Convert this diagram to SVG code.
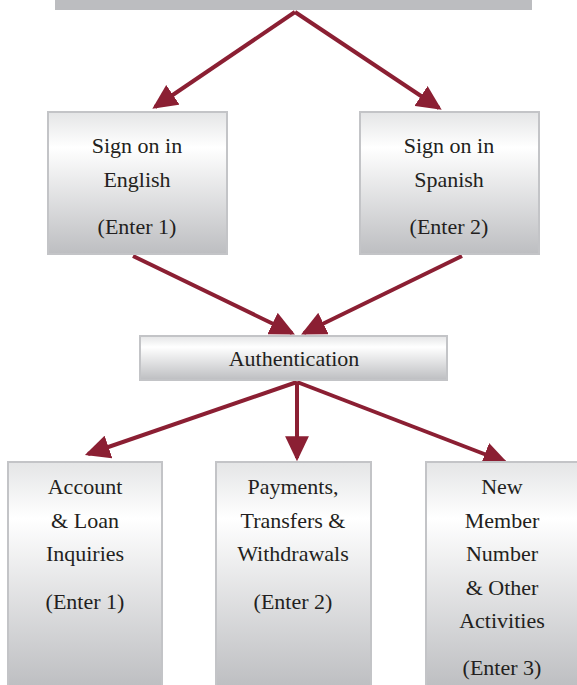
<svg xmlns="http://www.w3.org/2000/svg" width="577" height="685" viewBox="0 0 577 685">
<style>
.box{fill:url(#g);stroke:#c3c4c7;stroke-width:2}
.t{font-family:'Liberation Serif','Times New Roman',serif;font-size:22px;fill:#231f20;text-anchor:middle}
.c{stroke:#8b1f33;stroke-width:4;fill:none;marker-end:url(#ah)}
</style>
<defs>
<linearGradient id="g" x1="0" y1="0" x2="0" y2="1">
<stop offset="0" stop-color="#e4e5e6"/>
<stop offset="0.25" stop-color="#ffffff"/>
<stop offset="1" stop-color="#bdbec1"/>
</linearGradient>
<marker id="ah" markerUnits="userSpaceOnUse" markerWidth="26" markerHeight="24" refX="20" refY="11" orient="auto" viewBox="0 0 24 22">
<path d="M0,0 L23,11 L0,22 Z" fill="#8b1f33"/>
</marker>
</defs>
<g id="top"><rect x="55" y="-2" width="477" height="12" fill="#bcbdc0"/></g>
<g id="connectors">
<path class="c" d="M295,12 L155,107"/>
<path class="c" d="M295,12 L439,108"/>
<path class="c" d="M133,256 L292,333"/>
<path class="c" d="M462,256 L304,333"/>
<path class="c" d="M297,382 L88,454"/>
<path class="c" d="M297,382 L297,458"/>
<path class="c" d="M297,382 L505,462"/>
</g>
<g id="english"><rect class="box" x="48" y="112" width="179" height="142"/>
<text class="t" x="137" y="153">Sign on in</text><text class="t" x="137" y="187">English</text><text class="t" x="137" y="234">(Enter 1)</text></g>
<g id="spanish"><rect class="box" x="360" y="112" width="179" height="142"/>
<text class="t" x="449" y="153">Sign on in</text><text class="t" x="449" y="187">Spanish</text><text class="t" x="449" y="234">(Enter 2)</text></g>
<g id="auth"><rect class="box" x="140" y="336" width="307" height="44"/>
<text class="t" x="294" y="366">Authentication</text></g>
<g id="account"><rect class="box" x="8" y="462" width="154" height="226"/>
<text class="t" x="85" y="494">Account</text><text class="t" x="85" y="528">&amp; Loan</text><text class="t" x="85" y="561">Inquiries</text><text class="t" x="85" y="609">(Enter 1)</text></g>
<g id="payments"><rect class="box" x="216" y="462" width="155" height="226"/>
<text class="t" x="293" y="494">Payments,</text><text class="t" x="293" y="528">Transfers &amp;</text><text class="t" x="293" y="561">Withdrawals</text><text class="t" x="293" y="609">(Enter 2)</text></g>
<g id="newmember"><rect class="box" x="426" y="462" width="153" height="226"/>
<text class="t" x="502" y="494">New</text><text class="t" x="502" y="528">Member</text><text class="t" x="502" y="561">Number</text><text class="t" x="502" y="595">&amp; Other</text><text class="t" x="502" y="628">Activities</text><text class="t" x="502" y="675">(Enter 3)</text></g>
</svg>
